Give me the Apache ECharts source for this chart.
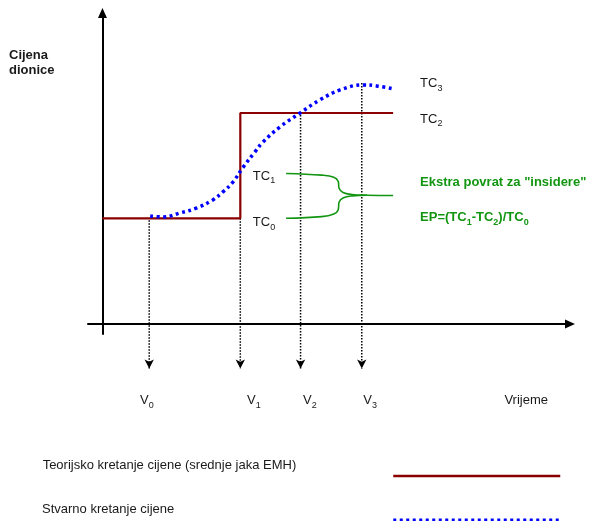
<!DOCTYPE html>
<html>
<head>
<meta charset="utf-8">
<script src="https://cdn.jsdelivr.net/npm/echarts@6/dist/echarts.min.js"></script>
<style>html,body{margin:0;padding:0;background:#fff;}#c{width:591px;height:521px;}</style>
</head>
<body>
<div id="c"></div>
<script>
// ---- data (abstract units: time on x, price on y) ----
const theoName = 'Teorijsko kretanje cijene (srednje jaka EMH)';
const actName = 'Stvarno kretanje cijene';
// theoretical price path (semi-strong EMH): jump at V1
const theoreticalPath = [[0, 31.6], [28.6, 31.6], [28.6, 63.1], [60.3, 63.1]];
// actual price path
const actualPath = [[9.9, 32.3], [12.6, 32.0], [16.1, 33.2], [19.6, 34.7], [22.9, 37.1], [25.0, 39.5],
  [27.1, 42.5], [29.2, 46.9], [31.6, 51.4], [33.3, 54.4], [36.8, 58.9], [41.0, 63.1], [45.1, 67.0],
  [49.3, 70.0], [54.0, 71.5], [56.9, 71.2], [60.3, 70.3]];
// time points V0..V3 and their drop lines
const timeNames = ['V0', 'V1', 'V2', 'V3'];
const timeX = [9.7, 28.6, 41.1, 53.8];
const dropTop = [31.0, 31.6, 62.5, 72.1];
const dropBottom = -13.3;
const timeLabelAnchors = [[7.8, -23.0], [30.0, -23.0], [41.6, -23.0], [54.1, -23.0]];
// price levels
const priceNames = ['TC0', 'TC1', 'TC2', 'TC3'];
const priceAnchors = [[31.2, 30.3], [31.2, 44.2], [65.9, 61.2], [65.9, 71.9]];
// brace between TC1 and TC0
const braceUpper = [[38.1, 45.0], [45.5, 44.5], [48.0, 43.9], [48.9, 42.7], [49.1, 40.6], [49.9, 39.3],
  [51.8, 38.7], [54.9, 38.5], [60.3, 38.4]];
const braceLower = [[38.1, 31.6], [45.5, 32.1], [48.0, 32.9], [48.9, 34.1], [49.1, 36.5], [49.9, 37.7],
  [51.8, 38.3], [54.9, 38.5]];
const notes = ['Ekstra povrat za "insidere"', 'EP=(TC1-TC2)/TC0'];
const noteAnchors = [[65.9, 42.2], [65.9, 31.8]];

// ---- styles ----
const FONT = 'Liberation Sans, Arial, sans-serif';
const RED = '#8b0000', BLUE = '#0000ff', GREEN = '#129612', INK = '#1a1a1a';
const sub = s => s.replace(/(\d)/g, '{s|$1}');

function labelSeries(names, anchors, color, weight, fmt) {
  return {
    type: 'scatter', silent: true, clip: false, symbolSize: 0, z: 6,
    itemStyle: { opacity: 1 },
    data: names.map((n, i) => ({ name: n, value: anchors[i] })),
    label: {
      show: true, position: 'right', distance: 0, opacity: 1,
      formatter: fmt || (p => sub(p.name)), fontFamily: FONT, fontSize: 13, lineHeight: 18,
      color: color, fontWeight: weight,
      rich: { s: { fontSize: 9, lineHeight: 9, verticalAlign: 'bottom', color: color, fontWeight: weight, fontFamily: FONT } }
    }
  };
}

const dropSeries = timeX.map((x, i) => ({
  type: 'line', silent: true, clip: false, z: 2,
  data: [
    { value: [x, dropTop[i]], symbol: 'none' },
    { value: [x, dropBottom], symbol: 'arrow', symbolSize: [7, 9], symbolRotate: 180 }
  ],
  showSymbol: true,
  lineStyle: { color: '#000', width: 1.5, type: [1.5, 1.5] },
  itemStyle: { color: '#000', opacity: 1 }
}));

const braceStyle = { color: GREEN, width: 1.6 };

const option = {
  animation: false,
  backgroundColor: '#fff',
  title: {
    text: 'Cijena\ndionice', left: 9, top: 48, padding: 0,
    textStyle: { fontFamily: FONT, fontSize: 13, fontWeight: 'bold', lineHeight: 15, color: INK }
  },
  grid: { left: 88, right: 21, top: 13, bottom: 187, outerBoundsMode: 'none', containLabel: false },
  xAxis: {
    type: 'value', min: -3, max: 97,
    axisLine: { onZero: true, symbol: ['none', 'triangle'], symbolSize: [9, 10], lineStyle: { color: '#000', width: 2 } },
    axisTick: { show: false }, axisLabel: { show: false }, splitLine: { show: false },
    name: 'Vrijeme', nameLocation: 'end', nameGap: -22,
    nameTextStyle: { fontFamily: FONT, fontSize: 13, color: INK, align: 'right', verticalAlign: 'top', padding: [70, 0, 0, 0] }
  },
  yAxis: {
    type: 'value', min: -3, max: 93,
    axisLine: { onZero: true, symbol: ['none', 'triangle'], symbolSize: [9, 10], lineStyle: { color: '#000', width: 2 } },
    axisTick: { show: false }, axisLabel: { show: false }, splitLine: { show: false }
  },
  legend: {
    orient: 'vertical', align: 'right', left: 42, top: 454, height: 100, width: 540, padding: 0,
    itemWidth: 167, itemHeight: 14, itemGap: 0, selectedMode: false,
    formatter: n => n + '\n ',
    textStyle: { fontFamily: FONT, fontSize: 13, lineHeight: 22, color: INK },
    itemStyle: { opacity: 0 },
    data: [
      { name: theoName, textStyle: { padding: [0, 92, 0, 0] }, lineStyle: { width: 2.7 } },
      { name: actName, textStyle: { padding: [0, 214, 0, 0] }, lineStyle: { width: 3 } }
    ]
  },
  series: [
    {
      name: theoName, type: 'line', data: theoreticalPath, symbol: 'none', z: 3,
      lineStyle: { color: RED, width: 2.2 }, itemStyle: { color: RED }
    },
    {
      name: actName, type: 'line', data: actualPath, symbol: 'none', smooth: 0.4, z: 4,
      lineStyle: { color: BLUE, width: 3.5, type: [3, 3.5], cap: 'butt' }, itemStyle: { color: BLUE }
    },
    ...dropSeries,
    { type: 'line', silent: true, data: braceUpper, symbol: 'none', smooth: 0.4, lineStyle: braceStyle, z: 3 },
    { type: 'line', silent: true, data: braceLower, symbol: 'none', smooth: 0.4, lineStyle: braceStyle, z: 3 },
    labelSeries(priceNames, priceAnchors, INK, 'normal'),
    labelSeries(timeNames, timeLabelAnchors, INK, 'normal'),
    labelSeries(notes, noteAnchors, GREEN, 'bold', p => p.name.replace(/TC(\d)/g, 'TC{s|$1}'))
  ]
};

const chart = echarts.init(document.getElementById('c'), null, { renderer: 'canvas' });
chart.setOption(option);
</script>
</body>
</html>
